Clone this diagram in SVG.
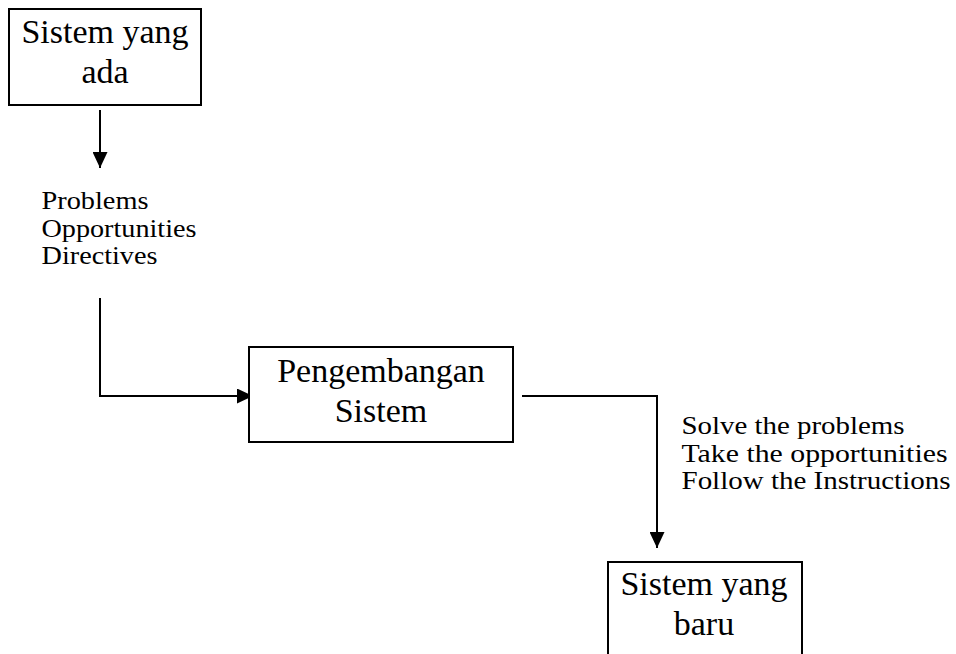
<svg xmlns="http://www.w3.org/2000/svg" width="956" height="654" viewBox="0 0 956 654">
<style>
.box{fill:#fff;stroke:#000;stroke-width:2}
.big{font-family:"Liberation Serif","Times New Roman",serif;font-size:34px;fill:#000;text-anchor:middle}
.lbl{font-family:"Liberation Serif","Times New Roman",serif;font-size:25px;fill:#000}
.line{fill:none;stroke:#000;stroke-width:2}
</style>
<defs>
<marker id="ah" viewBox="0 0 16 15" refX="16" refY="7.5" markerWidth="16" markerHeight="15" markerUnits="userSpaceOnUse" orient="auto">
<path d="M0,0 L16,7.5 L0,15 Z" fill="#000"/>
</marker>
</defs>
<rect width="956" height="654" fill="#fff"/>
<g id="connectors">
<path class="line" d="M100,110 V168" marker-end="url(#ah)"/>
<path class="line" d="M100,298 V396 H253" marker-end="url(#ah)"/>
<path class="line" d="M522,396 H657 V548" marker-end="url(#ah)"/>
</g>
<g id="node-sistem-ada">
<rect class="box" x="9" y="9" width="192" height="96"/>
<text class="big" x="105" y="43">Sistem yang</text>
<text class="big" x="105" y="83">ada</text>
</g>
<g id="label-input">
<text class="lbl" x="41.5" y="209" textLength="107" lengthAdjust="spacingAndGlyphs">Problems</text>
<text class="lbl" x="41.5" y="236.5" textLength="155" lengthAdjust="spacingAndGlyphs">Opportunities</text>
<text class="lbl" x="41.5" y="263.5" textLength="116" lengthAdjust="spacingAndGlyphs">Directives</text>
</g>
<g id="node-pengembangan">
<rect class="box" x="249" y="347" width="264" height="95"/>
<text class="big" x="381" y="382">Pengembangan</text>
<text class="big" x="381" y="422">Sistem</text>
</g>
<g id="label-output">
<text class="lbl" x="681.5" y="434" textLength="223" lengthAdjust="spacingAndGlyphs">Solve the problems</text>
<text class="lbl" x="681.5" y="462" textLength="266" lengthAdjust="spacingAndGlyphs">Take the opportunities</text>
<text class="lbl" x="681.5" y="489" textLength="269" lengthAdjust="spacingAndGlyphs">Follow the Instructions</text>
</g>
<g id="node-sistem-baru">
<rect class="box" x="608" y="562" width="194" height="100"/>
<text class="big" x="704" y="595">Sistem yang</text>
<text class="big" x="704" y="635">baru</text>
</g>
</svg>
